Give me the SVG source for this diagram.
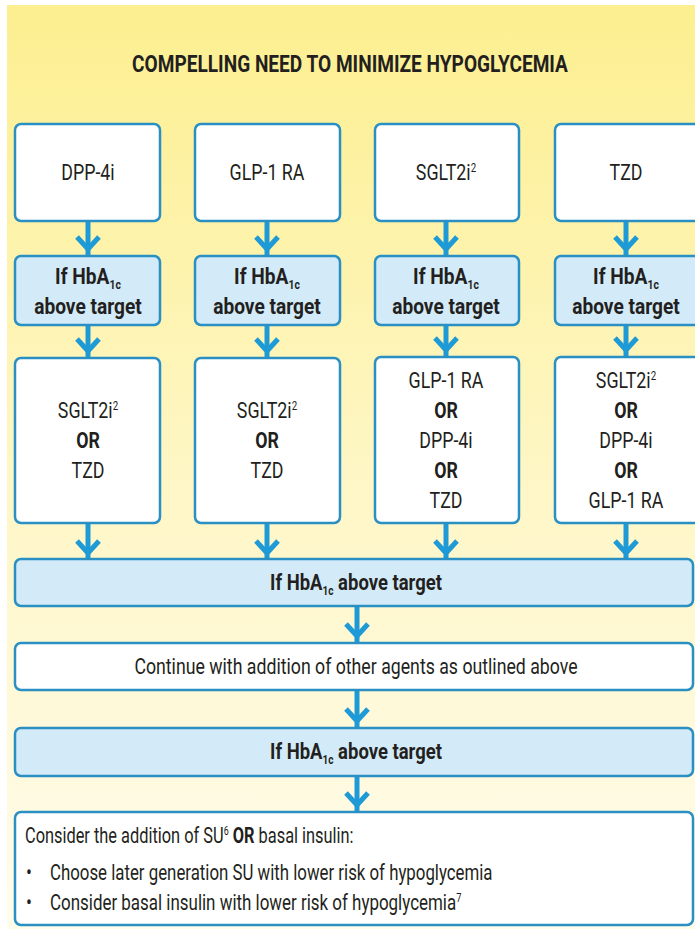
<svg xmlns="http://www.w3.org/2000/svg" width="695" height="929" viewBox="0 0 695 929">
<defs>
<linearGradient id="bg" x1="0" y1="0" x2="0" y2="1">
<stop offset="0" stop-color="#FCEF90"/>
<stop offset="0.5" stop-color="#FEF6C4"/>
<stop offset="1" stop-color="#FFFCEC"/>
</linearGradient>
</defs>
<style>
text{font-family:Roboto,"Liberation Sans",sans-serif;fill:#231F20;font-size:22px;}
.m{text-anchor:middle;}
.b{font-weight:bold;}
.w{fill:#FFFFFF;stroke:#2A8FC2;stroke-width:2.5;}
.l{fill:#D3EBF8;stroke:#2A8FC2;stroke-width:2.5;}
.ar line{stroke:#1E9AD6;stroke-width:5;}
.ar polyline{fill:none;stroke:#1E9AD6;stroke-width:5;stroke-linecap:butt;stroke-linejoin:miter;}
.sub{font-size:12px;}
</style>
<rect x="0" y="0" width="695" height="929" fill="#FFFFFF"/>
<rect x="7" y="5" width="688" height="924" fill="url(#bg)"/>
<text id="title" class="m b" transform="translate(350,72) scale(0.83,1)" style="font-size:23px">COMPELLING NEED TO MINIMIZE HYPOGLYCEMIA</text>

<g id="connectors" class="ar">
<line x1="88" y1="221" x2="88" y2="255"/><polyline points="77,237 88,249 99,237"/>
<line x1="267" y1="221" x2="267" y2="255"/><polyline points="256,237 267,249 278,237"/>
<line x1="446" y1="221" x2="446" y2="255"/><polyline points="435,237 446,249 457,237"/>
<line x1="626" y1="221" x2="626" y2="255"/><polyline points="615,237 626,249 637,237"/>

<line x1="88" y1="325" x2="88" y2="357"/><polyline points="77,339 88,351 99,339"/>
<line x1="267" y1="325" x2="267" y2="357"/><polyline points="256,339 267,351 278,339"/>
<line x1="446" y1="325" x2="446" y2="356"/><polyline points="435,338 446,350 457,338"/>
<line x1="626" y1="325" x2="626" y2="356"/><polyline points="615,338 626,350 637,338"/>

<line x1="88" y1="524" x2="88" y2="558"/><polyline points="77,541 88,553 99,541"/>
<line x1="267" y1="524" x2="267" y2="558"/><polyline points="256,541 267,553 278,541"/>
<line x1="446" y1="524" x2="446" y2="558"/><polyline points="435,541 446,553 457,541"/>
<line x1="626" y1="524" x2="626" y2="558"/><polyline points="615,541 626,553 637,541"/>

<line x1="357" y1="607" x2="357" y2="642"/><polyline points="346,624 357,636 368,624"/>
<line x1="357" y1="691" x2="357" y2="727"/><polyline points="346,709 357,721 368,709"/>
<line x1="357" y1="777" x2="357" y2="811"/><polyline points="346,793 357,805 368,793"/>
</g>

<g id="n1"><rect class="w" x="15" y="124" width="145" height="97" rx="6"/><text class="m" transform="translate(88,180) scale(0.81,1)">DPP-4i</text></g>
<g id="n2"><rect class="w" x="195" y="124" width="145" height="97" rx="6"/><text class="m" transform="translate(267,180) scale(0.81,1)">GLP-1 RA</text></g>
<g id="n3"><rect class="w" x="375" y="124" width="144" height="97" rx="6"/><text class="m" transform="translate(446,180) scale(0.81,1)">SGLT2i<tspan class="sub" dy="-8">2</tspan></text></g>
<g id="n4"><rect class="w" x="555" y="124" width="145" height="97" rx="6"/><text class="m" transform="translate(626,180) scale(0.81,1)">TZD</text></g>

<g id="h1"><rect class="l" x="15" y="256" width="145" height="69" rx="6"/><text class="m b" transform="translate(88,284) scale(0.87,1)">If HbA<tspan class="sub" dy="5">1c</tspan></text><text class="m b" transform="translate(88,314) scale(0.87,1)">above target</text></g>
<g id="h2"><rect class="l" x="195" y="256" width="145" height="69" rx="6"/><text class="m b" transform="translate(267,284) scale(0.87,1)">If HbA<tspan class="sub" dy="5">1c</tspan></text><text class="m b" transform="translate(267,314) scale(0.87,1)">above target</text></g>
<g id="h3"><rect class="l" x="375" y="256" width="144" height="69" rx="6"/><text class="m b" transform="translate(446,284) scale(0.87,1)">If HbA<tspan class="sub" dy="5">1c</tspan></text><text class="m b" transform="translate(446,314) scale(0.87,1)">above target</text></g>
<g id="h4"><rect class="l" x="555" y="256" width="145" height="69" rx="6"/><text class="m b" transform="translate(626,284) scale(0.87,1)">If HbA<tspan class="sub" dy="5">1c</tspan></text><text class="m b" transform="translate(626,314) scale(0.87,1)">above target</text></g>

<g id="c1"><rect class="w" x="15" y="358" width="145" height="165" rx="6"/>
<text class="m" transform="translate(88,418) scale(0.81,1)">SGLT2i<tspan class="sub" dy="-8">2</tspan></text>
<text class="m b" transform="translate(88,448) scale(0.81,1)">OR</text>
<text class="m" transform="translate(88,478) scale(0.81,1)">TZD</text></g>
<g id="c2"><rect class="w" x="195" y="358" width="145" height="165" rx="6"/>
<text class="m" transform="translate(267,418) scale(0.81,1)">SGLT2i<tspan class="sub" dy="-8">2</tspan></text>
<text class="m b" transform="translate(267,448) scale(0.81,1)">OR</text>
<text class="m" transform="translate(267,478) scale(0.81,1)">TZD</text></g>
<g id="c3"><rect class="w" x="375" y="357" width="144" height="166" rx="6"/>
<text class="m" transform="translate(446,388) scale(0.81,1)">GLP-1 RA</text>
<text class="m b" transform="translate(446,418) scale(0.81,1)">OR</text>
<text class="m" transform="translate(446,448) scale(0.81,1)">DPP-4i</text>
<text class="m b" transform="translate(446,478) scale(0.81,1)">OR</text>
<text class="m" transform="translate(446,508) scale(0.81,1)">TZD</text></g>
<g id="c4"><rect class="w" x="555" y="357" width="145" height="166" rx="6"/>
<text class="m" transform="translate(626,388) scale(0.81,1)">SGLT2i<tspan class="sub" dy="-8">2</tspan></text>
<text class="m b" transform="translate(626,418) scale(0.81,1)">OR</text>
<text class="m" transform="translate(626,448) scale(0.81,1)">DPP-4i</text>
<text class="m b" transform="translate(626,478) scale(0.81,1)">OR</text>
<text class="m" transform="translate(626,508) scale(0.81,1)">GLP-1 RA</text></g>

<g id="w1"><rect class="l" x="15" y="559" width="678" height="47" rx="6"/><text class="m b" transform="translate(356,590) scale(0.84,1)">If HbA<tspan class="sub" dy="5">1c</tspan><tspan dy="-5"> above target</tspan></text></g>
<g id="w2"><rect class="w" x="15" y="643" width="678" height="47" rx="6"/><text class="m" transform="translate(356,674) scale(0.805,1)">Continue with addition of other agents as outlined above</text></g>
<g id="w3"><rect class="l" x="15" y="728" width="678" height="48" rx="6"/><text class="m b" transform="translate(356,759) scale(0.84,1)">If HbA<tspan class="sub" dy="5">1c</tspan><tspan dy="-5"> above target</tspan></text></g>
<g id="w4"><rect class="w" x="15" y="812" width="678" height="113" rx="6"/>
<text transform="translate(25,843) scale(0.745,1)">Consider the addition of SU<tspan class="sub" dy="-8">6</tspan><tspan dy="8" class="b"> OR</tspan> basal insulin:</text>
<text transform="translate(26,880) scale(0.8,1)">•</text><text transform="translate(50,880) scale(0.765,1)">Choose later generation SU with lower risk of hypoglycemia</text>
<text transform="translate(26,910) scale(0.8,1)">•</text><text transform="translate(50,910) scale(0.77,1)">Consider basal insulin with lower risk of hypoglycemia<tspan class="sub" dy="-8">7</tspan></text></g>
</svg>
